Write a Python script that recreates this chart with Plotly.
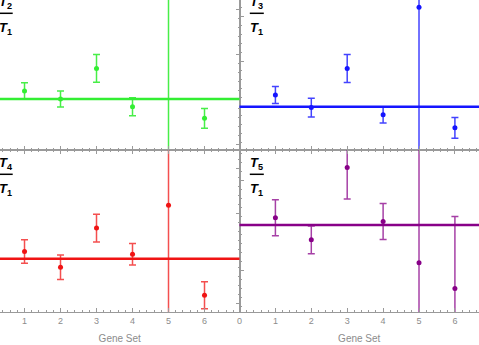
import plotly.graph_objects as go
from plotly.subplots import make_subplots

# Gene sets on the x axis
gene_sets = [1, 2, 3, 4, 5, 6]

# Ratio estimates and their error bars, one list per panel
t2_ratio = [1.018, 1.000, 1.068, 0.983, 1.260, 0.957]
t2_err = [0.018, 0.018, 0.031, 0.020, 1.000, 0.022]

t3_ratio = [1.026, 0.998, 1.085, 0.982, 1.221, 0.953]
t3_err = [0.019, 0.021, 0.031, 0.018, 1.000, 0.023]

t4_ratio = [1.016, 0.981, 1.068, 1.010, 1.119, 0.919]
t4_err = [0.026, 0.027, 0.031, 0.024, 1.000, 0.030]

t5_ratio = [1.016, 0.967, 1.128, 1.008, 0.916, 0.859]
t5_err = [0.040, 0.031, 0.070, 0.040, 1.000, 0.160]

panel_numerators = ["2", "3", "4", "5"]
panel_colors = ["#33ee33", "#1515ff", "#f01414", "#880088"]
bar_colors = ["rgba(40,235,40,0.85)", "rgba(20,20,255,0.8)",
              "rgba(240,20,20,0.75)", "rgba(136,0,136,0.75)"]
reference_level = 1.0

# visible y ranges per panel (top-left, top-right, bottom-left, bottom-right)
y_ranges = [[0.8867, 1.22], [0.9038, 1.2371], [0.8816, 1.2416], [0.8067, 1.1667]]
x_ranges = [[0.319, 6.972], [0.0, 6.671]]

FRAME = "#9a9a9a"
LABEL = "#8c8c8c"

W, H_PLOT = 479, 312


def px(x):
    return x / W


def py(y):
    return (H_PLOT - y) / H_PLOT


fig = make_subplots(rows=2, cols=2, horizontal_spacing=0, vertical_spacing=0)

series = [(t2_ratio, t2_err), (t3_ratio, t3_err), (t4_ratio, t4_err), (t5_ratio, t5_err)]
cells = [(1, 1), (1, 2), (2, 1), (2, 2)]

for i, ((vals, errs), (r, c)) in enumerate(zip(series, cells)):
    fig.add_trace(go.Scatter(
        x=gene_sets, y=vals, mode="markers",
        marker=dict(color=panel_colors[i], size=5),
        error_y=dict(type="data", array=errs, visible=True,
                     color=bar_colors[i], thickness=1.5, width=3.5),
        showlegend=False,
    ), row=r, col=c)
    n = "" if i == 0 else str(i + 1)
    fig.add_shape(type="line", xref=f"x{n} domain", yref=f"y{n}",
                  x0=0, x1=1, y0=reference_level, y1=reference_level,
                  line=dict(color=panel_colors[i], width=2.5))

split_x = 239.5 / W
split_y = (H_PLOT - 150) / H_PLOT

axis_common = dict(showgrid=False, zeroline=False, showline=True, linecolor=FRAME,
                   linewidth=1, ticks="inside", tickcolor=FRAME, ticklen=4,
                   automargin=False)

for i, (r, c) in enumerate(cells):
    n = "" if i == 0 else str(i + 1)
    xdom = [0, split_x] if c == 1 else [split_x, 1]
    ydom = [split_y, 1] if r == 1 else [0, split_y]
    fig.layout[f"xaxis{n}"].update(
        domain=xdom, range=x_ranges[c - 1], dtick=1, tick0=0,
        minor=dict(dtick=0.2, ticks="inside", ticklen=2, tickcolor=FRAME),
        mirror="ticks" if r == 2 else False,
        showticklabels=(r == 2),
        tickfont=dict(family="Liberation Sans", size=9, color=LABEL),
        title=dict(text="Gene Set" if r == 2 else "", standoff=10,
                   font=dict(family="Liberation Sans", size=10, color=LABEL)),
        **axis_common,
    )
    fig.layout[f"yaxis{n}"].update(
        domain=ydom, range=y_ranges[i], dtick=0.1, tick0=0,
        minor=dict(dtick=0.02, ticks="inside", ticklen=2, tickcolor=FRAME),
        side="right" if c == 1 else "left", mirror=False,
        showticklabels=False,
        **axis_common,
    )

# fraction labels T_k / T_1
label_font = dict(family="Liberation Sans", size=13, color="black")
label_pos = [(5.7, 13.3), (256.8, 13.3), (5.7, 174.3), (256.8, 174.3)]
for num, (cx, bar_y) in zip(panel_numerators, label_pos):
    fig.add_annotation(xref="paper", yref="paper", x=px(cx), y=py(bar_y - 11),
                       text=f"<b><i>T</i><sub>{num}</sub></b>", showarrow=False,
                       font=label_font, xanchor="center", yanchor="middle")
    fig.add_annotation(xref="paper", yref="paper", x=px(cx), y=py(bar_y + 15),
                       text="<b><i>T</i><sub>1</sub></b>", showarrow=False,
                       font=label_font, xanchor="center", yanchor="middle")
    fig.add_shape(type="line", xref="paper", yref="paper",
                  x0=px(cx - 7), x1=px(cx + 7), y0=py(bar_y), y1=py(bar_y),
                  line=dict(color="black", width=1.5))

fig.update_layout(
    width=479, height=345,
    margin=dict(l=0, r=0, t=0, b=33),
    paper_bgcolor="white", plot_bgcolor="white",
)

fig.write_html("out.html", config={"displayModeBar": False},
               post_script="document.body.style.margin='0';")
